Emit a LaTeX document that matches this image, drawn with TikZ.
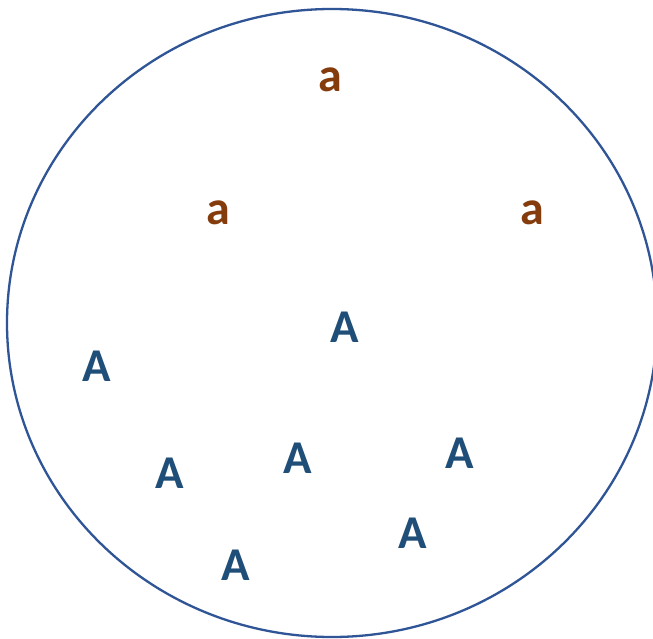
\documentclass[tikz,border=0pt]{standalone}
\usepackage{fontspec}
\setmainfont{Carlito}
\definecolor{ringblue}{HTML}{2F5597}
\definecolor{capblue}{HTML}{1F4E79}
\definecolor{smallbrown}{HTML}{843C0C}
\tikzset{
  bigA/.style={inner sep=0pt, text=capblue, font=\fontsize{47}{47}\selectfont\bfseries},
  smalla/.style={inner sep=0pt, text=smallbrown, font=\fontsize{48}{48}\selectfont\bfseries},
  ring/.style={draw=ringblue, line width=2.3pt}
}
\begin{document}
\begin{tikzpicture}[x=1pt,y=-1pt]
\useasboundingbox (0,0) rectangle (653,639);
\clip (0,0) rectangle (653,639);
\fill[white] (0,0) rectangle (653,639);
\draw[ring] (332,323) ellipse [x radius=325, y radius=314];
\node[smalla] (a1) at (330,80) {a};
\node[smalla] (a2) at (218,213) {a};
\node[smalla] (a3) at (532,213) {a};
\node[bigA] (A1) at (345,327) {A};
\node[bigA] (A2) at (97,366) {A};
\node[bigA] (A3) at (170,473) {A};
\node[bigA] (A4) at (298,458) {A};
\node[bigA] (A5) at (460,453) {A};
\node[bigA] (A6) at (413,533) {A};
\node[bigA] (A7) at (236,565) {A};
\end{tikzpicture}
\end{document}
